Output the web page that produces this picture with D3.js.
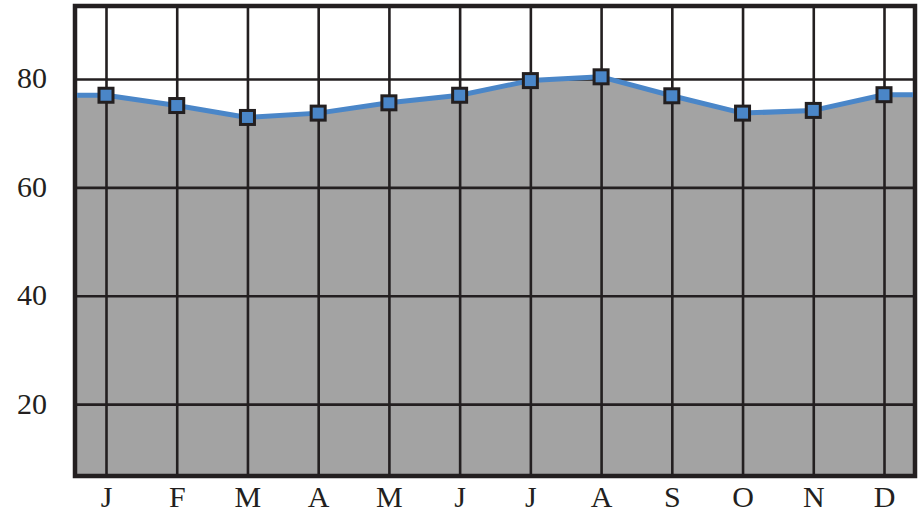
<!DOCTYPE html>
<html>
<head>
<meta charset="utf-8">
<script src="https://cdn.jsdelivr.net/npm/d3@7"></script>
<style>
  body { margin: 0; background: #fff; }
  svg { display: block; }
  .tick text { font-family: 'Liberation Serif', 'Times New Roman', serif; }
</style>
</head>
<body>
<svg></svg>
<script>
// data
var months = ["J", "F", "M", "A", "M", "J", "J", "A", "S", "O", "N", "D"];
var temps = [77.0, 75.1, 72.9, 73.7, 75.6, 77.0, 79.7, 80.4, 76.9, 73.7, 74.2, 77.1];
var yTicks = [20, 40, 60, 80];

var width = 923, height = 515;
var margin = {top: 8, right: 10, bottom: 41, left: 77};
var graphWidth = width - margin.left - margin.right;
var graphHeight = height - margin.top - margin.bottom;

var svg = d3.select("svg")
  .attr("width", width)
  .attr("height", height);

var graph = svg.append("g")
  .attr("transform", "translate(" + margin.left + "," + margin.top + ")");

// month index -> x, points sit inside the frame
var x = d3.scalePoint()
  .domain(d3.range(months.length))
  .range([0, graphWidth])
  .padding(0.41);

var y = d3.scaleLinear()
  .domain([7.1, 93.1])
  .range([graphHeight, 0]);

var pts = temps.map((v, i) => ({px: x(i), v: v}));
// flat run-out to both edges of the frame
var areaPts = [{px: 0, v: temps[0]}].concat(pts, [{px: graphWidth, v: temps[temps.length - 1]}]);

var area = d3.area()
  .x(d => d.px)
  .y0(graphHeight)
  .y1(d => y(d.v));

graph.append("path")
  .datum(areaPts)
  .attr("d", area)
  .attr("fill", "#a3a3a3");

// grid via axes
var yAxis = d3.axisLeft(y)
  .tickValues(yTicks)
  .tickSize(-graphWidth)
  .tickPadding(30);

var yAxisGroup = graph.append("g").call(yAxis);
yAxisGroup.attr("font-family", null);
yAxisGroup.select(".domain").remove();
yAxisGroup.selectAll("line")
  .attr("stroke", "#231f20")
  .attr("stroke-width", 2.6);
yAxisGroup.selectAll("text")
  .attr("fill", "#231f20")
  .attr("font-size", 30)
  .attr("dy", "0.3em");

var xAxis = d3.axisBottom(x)
  .tickSize(-graphHeight)
  .tickPadding(12)
  .tickFormat(i => months[i]);

var xAxisGroup = graph.append("g")
  .attr("transform", `translate(0, ${graphHeight})`)
  .call(xAxis);
xAxisGroup.attr("font-family", null);
xAxisGroup.select(".domain").remove();
xAxisGroup.selectAll("line")
  .attr("stroke", "#231f20")
  .attr("stroke-width", 2.6);
xAxisGroup.selectAll("text")
  .attr("fill", "#231f20")
  .attr("font-size", 30);

// frame
graph.append("rect")
  .attr("x", -2)
  .attr("y", -2)
  .attr("width", graphWidth + 4)
  .attr("height", graphHeight + 4)
  .attr("fill", "none")
  .attr("stroke", "#231f20")
  .attr("stroke-width", 4.5);

var line = d3.line()
  .x(d => d.px)
  .y(d => y(d.v));

graph.append("path")
  .datum(areaPts)
  .attr("d", line)
  .attr("fill", "none")
  .attr("stroke", "#4a86c8")
  .attr("stroke-width", 5)
  .attr("stroke-linejoin", "round");

var sq = 14;
graph.selectAll("rect.marker")
  .data(pts)
  .enter()
  .append("rect")
  .attr("class", "marker")
  .attr("x", d => d.px - sq / 2)
  .attr("y", d => y(d.v) - sq / 2)
  .attr("width", sq)
  .attr("height", sq)
  .attr("fill", "#4a86c8")
  .attr("stroke", "#231f20")
  .attr("stroke-width", 3);
</script>
</body>
</html>
